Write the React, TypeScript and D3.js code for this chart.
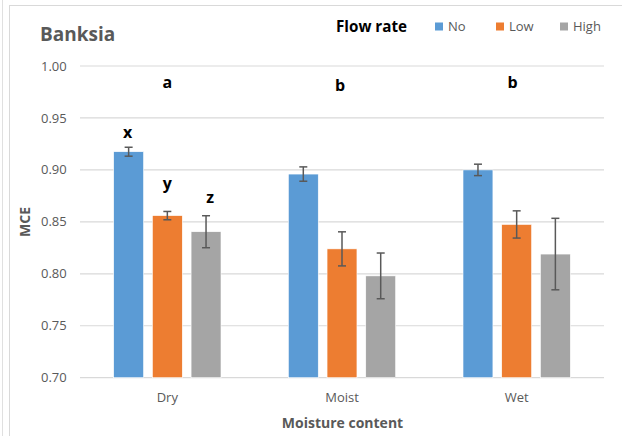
import React from "react";
import * as d3 from "d3";

const categories = ["Dry", "Moist", "Wet"];
const seriesNames = ["No", "Low", "High"];
const noValues = [0.9175, 0.896, 0.9];
const lowValues = [0.856, 0.824, 0.8475];
const highValues = [0.8405, 0.798, 0.819];
const noErrors = [0.0043, 0.0069, 0.0055];
const lowErrors = [0.004, 0.0164, 0.0131];
const highErrors = [0.0154, 0.022, 0.0344];
const groupLetters = ["a", "b", "b"];
const dryLetters = ["x", "y", "z"];
const yTicks = [0.7, 0.75, 0.8, 0.85, 0.9, 0.95, 1.0];

const colors = ["#5B9BD5", "#ED7D31", "#A5A5A5"];
const FONT = "'Open Sans', 'DejaVu Sans', sans-serif";

export default function App() {
  const W = 622;
  const H = 436;
  const plotLeft = 80;
  const plotRight = 604;
  const y = d3.scaleLinear().domain([0.7, 1.0]).range([377.7, 66]);
  const x0 = d3.scaleBand<string>().domain(categories).range([plotLeft, plotRight]).padding(0);
  const x1 = d3
    .scaleBand<string>()
    .domain(seriesNames)
    .range([0, x0.bandwidth()])
    .paddingInner(0.227)
    .paddingOuter(0.87);

  const values = [noValues, lowValues, highValues];
  const errors = [noErrors, lowErrors, highErrors];
  const bw = x1.bandwidth();

  const legendX = [435, 496, 560];
  const groupLetterOffsets = [0, -2, -4];
  const groupLetterBaselines = [88, 90.5, 88];

  return (
    <svg
      width={W}
      height={H}
      style={{ position: "absolute", left: 0, top: 0, display: "block", background: "#fff" }}
      fontFamily={FONT}
    >
      <rect x={0} y={0} width={W} height={H} fill="#fff" />
      <line x1={2.5} x2={2.5} y1={0} y2={H} stroke="#e0e0e0" strokeWidth={1} />
      <rect x={9.5} y={5.5} width={640} height={460} fill="none" stroke="#d9d9d9" strokeWidth={1} />

      <text x={40} y={40.7} fontSize={19} fontWeight="bold" fill="#595959">
        Banksia
      </text>

      <text x={336} y={31.5} fontSize={15.5} fontWeight="bold" fill="#000" textLength={71} lengthAdjust="spacingAndGlyphs">
        Flow rate
      </text>
      {seriesNames.map((s, i) => (
        <g key={s}>
          <rect x={legendX[i]} y={22.5} width={8} height={8} fill={colors[i]} />
          <text x={legendX[i] + 13} y={31} fontSize={13} fill="#595959">
            {s}
          </text>
        </g>
      ))}

      {yTicks.map((t) => (
        <g key={t}>
          <line x1={plotLeft} x2={plotRight} y1={y(t)} y2={y(t)} stroke="#d9d9d9" strokeWidth={1.2} />
          <text x={66.7} y={y(t)} dy="0.35em" fontSize={13} textAnchor="end" fill="#595959">
            {d3.format(".2f")(t)}
          </text>
        </g>
      ))}

      {categories.map((c, ci) => (
        <g key={c}>
          {seriesNames.map((s, si) => {
            const v = values[si][ci];
            const e = errors[si][ci];
            const bx = (x0(c) as number) + (x1(s) as number);
            const cx = bx + bw / 2;
            return (
              <g key={s}>
                <rect
                  x={bx}
                  y={y(v)}
                  width={bw}
                  height={y(0.7) - y(v)}
                  fill={colors[si]}
                  stroke="#fff"
                  strokeWidth={0.6}
                />
                <line x1={cx} x2={cx} y1={y(v + e)} y2={y(v - e)} stroke="#595959" strokeWidth={1.5} />
                <line x1={cx - 4} x2={cx + 4} y1={y(v + e)} y2={y(v + e)} stroke="#595959" strokeWidth={1.5} />
                <line x1={cx - 4} x2={cx + 4} y1={y(v - e)} y2={y(v - e)} stroke="#595959" strokeWidth={1.5} />
              </g>
            );
          })}
          <text
            x={(x0(c) as number) + x0.bandwidth() / 2}
            y={402}
            fontSize={13}
            textAnchor="middle"
            fill="#595959"
          >
            {c}
          </text>
        </g>
      ))}

      {categories.map((c, ci) => (
        <text
          key={"g" + c}
          x={(x0(c) as number) + x0.bandwidth() / 2 + groupLetterOffsets[ci]}
          y={groupLetterBaselines[ci]}
          fontSize={16}
          fontWeight="bold"
          textAnchor="middle"
          fill="#000"
        >
          {groupLetters[ci]}
        </text>
      ))}

      {seriesNames.map((s, si) => {
        const bx = (x0(categories[0]) as number) + (x1(s) as number);
        const v = values[si][0];
        const e = errors[si][0];
        const offs = [-1, 0, 4];
        const gaps = [9.5, 22, 12.5];
        return (
          <text
            key={"l" + s}
            x={bx + bw / 2 + offs[si]}
            y={y(v + e) - gaps[si]}
            fontSize={16}
            fontWeight="bold"
            textAnchor="middle"
            fill="#000"
          >
            {dryLetters[si]}
          </text>
        );
      })}

      <text
        transform="translate(30,222) rotate(-90)"
        fontSize={14}
        fontWeight="bold"
        textAnchor="middle"
        fill="#595959"
      >
        MCE
      </text>
      <text x={342.5} y={427.7} fontSize={14} fontWeight="bold" textAnchor="middle" fill="#595959">
        Moisture content
      </text>
    </svg>
  );
}
